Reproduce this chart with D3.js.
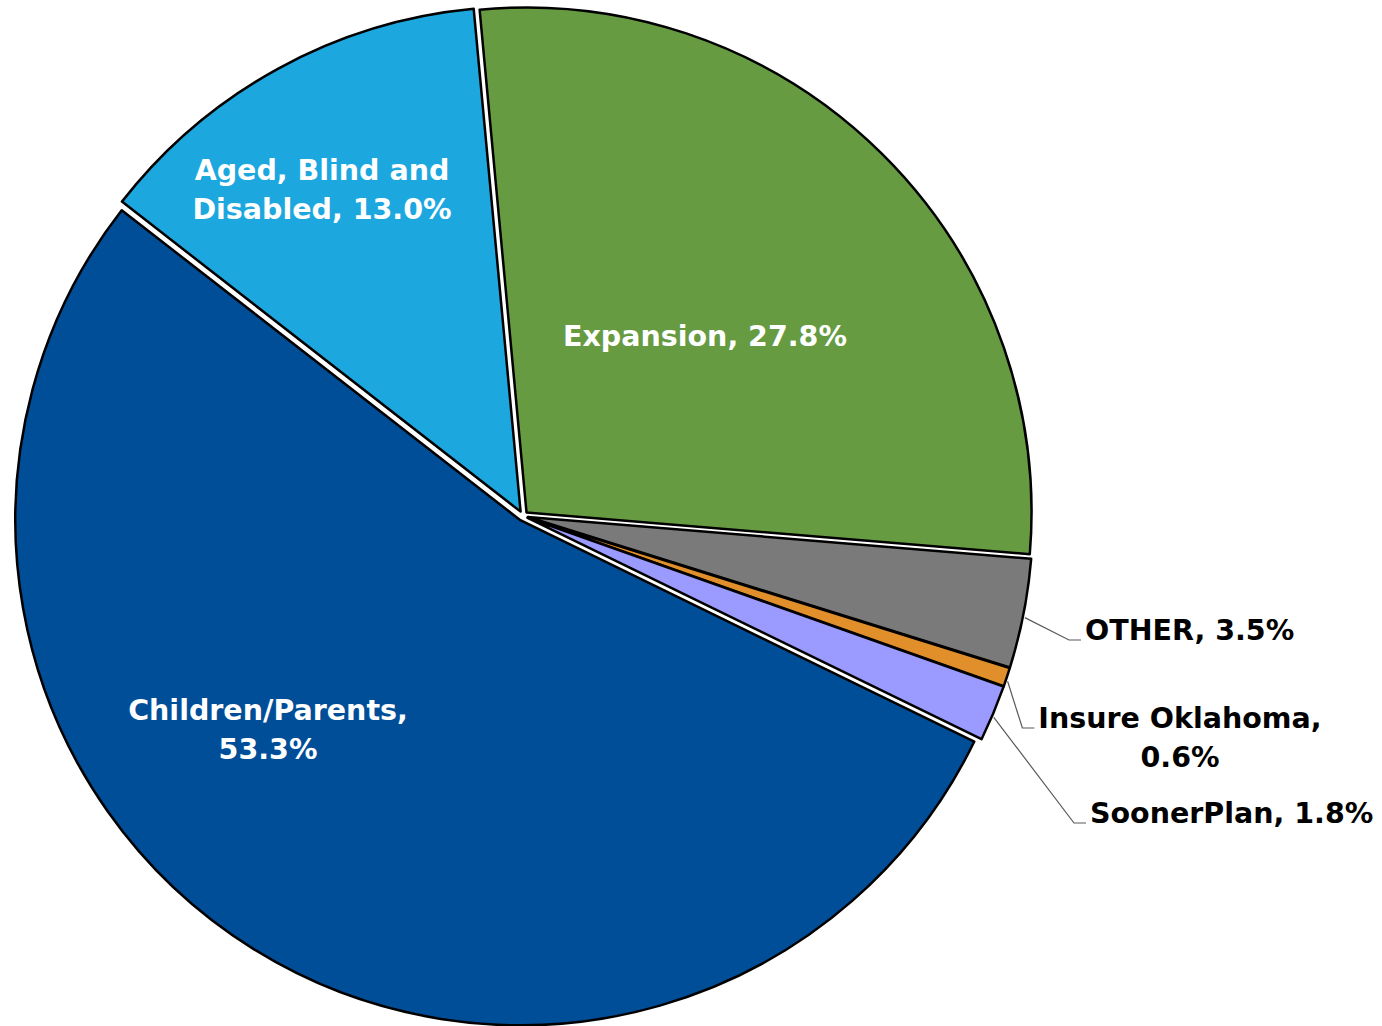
<!DOCTYPE html>
<html>
<head>
<meta charset="utf-8">
<script src="https://cdn.jsdelivr.net/npm/d3@7"></script>
<style>
  body { margin: 0; background: #fff; }
  text { font-family: "DejaVu Sans", sans-serif; font-weight: bold; }
</style>
</head>
<body>
<svg id="chart" width="1382" height="1026"></svg>
<script>
// Enrollment share by program (percent), clockwise from the first slice.
var categories = ['Expansion', 'OTHER', 'Insure Oklahoma', 'SoonerPlan', 'Children/Parents', 'Aged, Blind and Disabled'];
var shares = [27.8, 3.5, 0.6, 1.8, 53.3, 13.0];
var colors = ['#669b42', '#7a7a7a', '#e08f2a', '#9a9aff', '#004e98', '#1da7df'];

// Label layout: words on the first line (0 = single line), inside or outside.
var wrapWords = [0, 0, 2, 0, 1, 3];
var outside = [false, true, true, true, false, false];
var labelPos = [
  {x: 705, y: 346, anchor: 'middle'},
  {x: 1085, y: 640, anchor: 'start'},
  {x: 1180, y: 728, anchor: 'middle'},
  {x: 1090, y: 823, anchor: 'start'},
  {x: 268, y: 720, anchor: 'middle'},
  {x: 322, y: 180, anchor: 'middle'}
];

function renderPie() {
  'use strict';
  var svg = d3.select('#chart');
  var cx = 523, cy = 516, radius = 505, explode = 5;
  var fontSize = 28.5, lineHeight = 38.5;
  var start = -5.33 * Math.PI / 180;

  var pie = d3.pie()
    .sort(null)
    .value(function(d) { return d; })
    .startAngle(start)
    .endAngle(start + 2 * Math.PI);
  var arc = d3.arc().innerRadius(0).outerRadius(radius);
  var arcs = pie(shares);

  var g = svg.append('g')
    .attr('transform', 'translate(' + cx + ',' + cy + ')');

  function midAngle(d) { return (d.startAngle + d.endAngle) / 2; }

  // Slices, each pulled out a little along its bisector.
  g.selectAll('.slice')
    .data(arcs)
    .enter()
    .append('path')
      .attr('class', 'slice')
      .attr('transform', function(d) {
        var m = midAngle(d);
        return 'translate(' + (explode * Math.sin(m)) + ',' + (-explode * Math.cos(m)) + ')';
      })
      .attr('d', arc)
      .attr('fill', function(d, i) { return colors[i]; })
      .attr('stroke', '#000')
      .attr('stroke-width', 2.5)
      .attr('stroke-linejoin', 'round');

  // Labels.
  arcs.forEach(function(d, i) {
    var words = (categories[i] + ', ' + shares[i].toFixed(1) + '%').split(' ');
    var lines = wrapWords[i] ? [words.slice(0, wrapWords[i]).join(' '), words.slice(wrapWords[i]).join(' ')] : [words.join(' ')];
    var pos = labelPos[i];
    var t = svg.append('text')
      .attr('x', pos.x)
      .attr('y', pos.y)
      .attr('text-anchor', pos.anchor)
      .attr('font-size', fontSize)
      .attr('fill', outside[i] ? '#000' : '#fff');
    lines.forEach(function(line, k) {
      t.append('tspan')
        .attr('x', pos.x)
        .attr('y', pos.y + k * lineHeight)
        .text(line);
    });

    if (outside[i]) {
      // Leader line from the slice edge to the label's first baseline.
      var box = t.node().getBBox();
      var m = midAngle(d) + 0.4 * Math.PI / 180;
      var r0 = radius + explode + 2;
      var p0 = [cx + r0 * Math.sin(m), cy - r0 * Math.cos(m)];
      svg.append('path')
        .attr('d', 'M' + p0[0] + ',' + p0[1] + 'L' + (box.x - 16) + ',' + pos.y + 'L' + (box.x - 4) + ',' + pos.y)
        .attr('fill', 'none')
        .attr('stroke', '#595959')
        .attr('stroke-width', 1.2);
    }
  });
}

renderPie();
</script>
</body>
</html>
